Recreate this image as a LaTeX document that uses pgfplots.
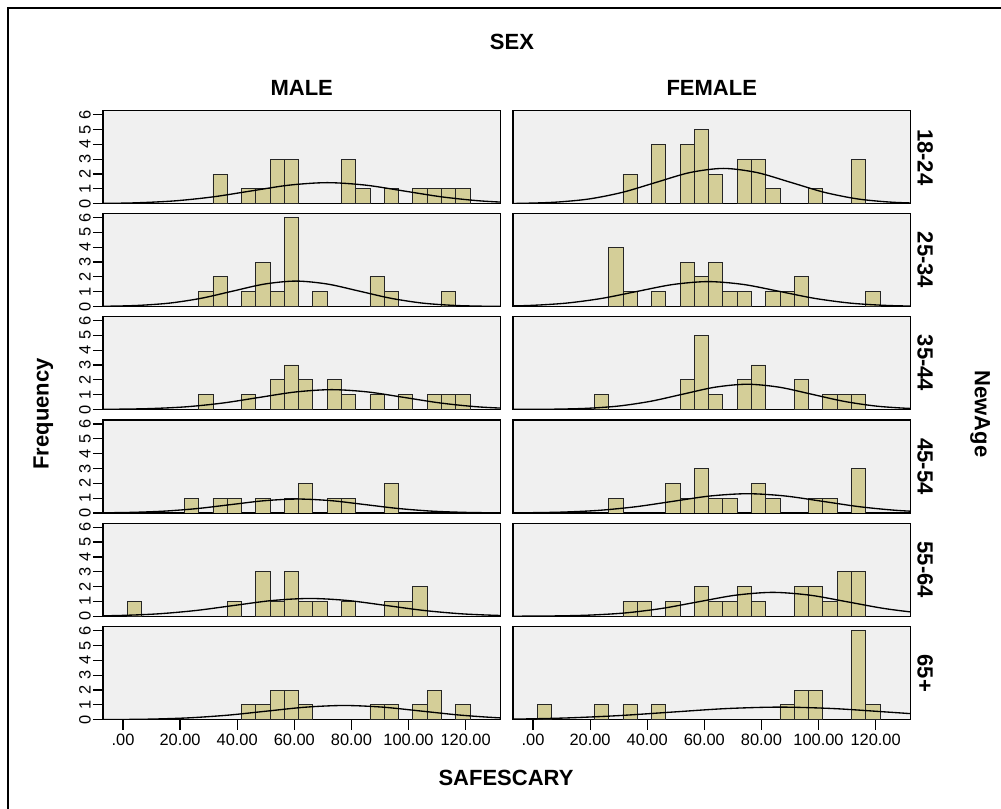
\documentclass[border=0pt]{standalone}
\usepackage{pgfplots}
\pgfplotsset{compat=1.18}
\usepackage{fontspec}
\setmainfont{Liberation Sans}
\usetikzlibrary{calc}
\definecolor{bgcol}{RGB}{240,240,240}
\definecolor{barcol}{RGB}{212,206,152}
\pgfplotsset{
  panel/.style={scale only axis, width=298.1pt, height=69.75pt, anchor=north west,
    xmin=-7, xmax=132.2, ymin=0, ymax=6.27,
    axis background/.style={fill=bgcol},
    axis line style={line width=1.1pt, black},
    ytick={0,1,2,3,4,5,6}, yticklabels={0,1,2,3,4,5,6},
    ytick pos=left, xtick pos=bottom, tick align=outside,
    major tick length=7.5pt, tick style={line width=0.9pt, black},
    yticklabel style={rotate=90, anchor=south, inner sep=1.5pt, font=\fontsize{12.3}{14}\selectfont},
    xtick=\empty,
    /pgf/number format/assume math mode=true},
  rightcol/.style={ytick=\empty, yticklabels={}},
  bottomrow/.style={xtick={0,20,40,60,80,100,120},
    xticklabels={.00,20.00,40.00,60.00,80.00,100.00,120.00},
    xticklabel style={font=\fontsize{12.3}{14}\selectfont, inner sep=3pt}},
  bars/.style={ybar, bar width=5, fill=barcol, draw=black!85, line width=0.6pt},
  curve/.style={smooth, no markers, black, line width=1pt},
}
\newcommand{\hfont}{\fontsize{16.5}{19}\selectfont\bfseries}
\begin{document}
\begin{tikzpicture}
\useasboundingbox (0,0) rectangle (750.75pt,606.75pt);
\draw[line width=1.3pt] (6pt,0) -- (6pt,600.5pt) -- (750.75pt,600.5pt);

% ---------- MALE ----------
\begin{axis}[panel, name=m1, at={(77.25pt,523.7pt)}]
\addplot[bars] coordinates {(34,2)(44,1)(49,1)(54,3)(59,3)(79,3)(84,1)(94,1)(104,1)(109,1)(114,1)(119,1)};
\addplot[curve] coordinates {(-35.2,0.0004)(-21.85,0.0031)(-8.5,0.0158)(4.85,0.0623)(18.2,0.1921)(31.55,0.4611)(44.9,0.8612)(58.25,1.2532)(71.6,1.42)(84.95,1.2532)(98.3,0.8612)(111.65,0.4611)(125.0,0.1921)(138.35,0.0623)(151.7,0.0158)(165.05,0.0031)(178.4,0.0004)};
\end{axis}
\begin{axis}[panel, name=m2, at={(77.25pt,446.6pt)}]
\addplot[bars] coordinates {(29,1)(34,2)(44,1)(49,3)(54,1)(59,6)(69,1)(89,2)(94,1)(114,1)};
\addplot[curve] coordinates {(-27.8,0.0005)(-16.75,0.0038)(-5.7,0.0190)(5.35,0.0753)(16.4,0.2320)(27.45,0.5569)(38.5,1.0401)(49.55,1.5135)(60.6,1.715)(71.65,1.5135)(82.7,1.0401)(93.75,0.5569)(104.8,0.2320)(115.85,0.0753)(126.9,0.0190)(137.95,0.0038)(149.0,0.0005)};
\end{axis}
\begin{axis}[panel, name=m3, at={(77.25pt,369.4pt)}]
\addplot[bars] coordinates {(29,1)(44,1)(54,2)(59,3)(64,2)(74,2)(79,1)(89,1)(99,1)(109,1)(114,1)(119,1)};
\addplot[curve] coordinates {(-28.5,0.0004)(-15.8,0.0029)(-3.1,0.0148)(9.6,0.0586)(22.3,0.1806)(35.0,0.4335)(47.7,0.8097)(60.4,1.1781)(73.1,1.335)(85.8,1.1781)(98.5,0.8097)(111.2,0.4335)(123.9,0.1806)(136.6,0.0586)(149.3,0.0148)(162.0,0.0029)(174.7,0.0004)};
\end{axis}
\begin{axis}[panel, name=m4, at={(77.25pt,291.75pt)}]
\addplot[bars] coordinates {(24,1)(34,1)(39,1)(49,1)(59,1)(64,2)(74,1)(79,1)(94,2)};
\addplot[curve] coordinates {(-31.9,0.0003)(-20.25,0.0021)(-8.6,0.0104)(3.05,0.0413)(14.7,0.1272)(26.35,0.3052)(38.0,0.5701)(49.65,0.8296)(61.3,0.94)(72.95,0.8296)(84.6,0.5701)(96.25,0.3052)(107.9,0.1272)(119.55,0.0413)(131.2,0.0104)(142.85,0.0021)(154.5,0.0003)};
\end{axis}
\begin{axis}[panel, name=m5, at={(77.25pt,214.3pt)}]
\addplot[bars] coordinates {(4,1)(39,1)(49,3)(54,1)(59,3)(64,1)(69,1)(79,1)(94,1)(99,1)(104,2)};
\addplot[curve] coordinates {(-40.9,0.0004)(-27.6,0.0026)(-14.3,0.0133)(-1.0,0.0527)(12.3,0.1624)(25.6,0.3896)(38.9,0.7278)(52.2,1.059)(65.5,1.20)(78.8,1.059)(92.1,0.7278)(105.4,0.3896)(118.7,0.1624)(132.0,0.0527)(145.3,0.0133)(158.6,0.0026)(171.9,0.0004)};
\end{axis}
\begin{axis}[panel, bottomrow, name=m6, at={(77.25pt,136.7pt)}]
\addplot[bars] coordinates {(44,1)(49,1)(54,2)(59,2)(64,1)(89,1)(94,1)(104,1)(109,2)(119,1)};
\addplot[curve] coordinates {(-30.5,0.0003)(-17.0,0.0021)(-3.5,0.0107)(10.0,0.0421)(23.5,0.1299)(37.0,0.3117)(50.5,0.5822)(64.0,0.8472)(77.5,0.96)(91.0,0.8472)(104.5,0.5822)(118.0,0.3117)(131.5,0.1299)(145.0,0.0421)(158.5,0.0107)(172.0,0.0021)(185.5,0.0003)};
\end{axis}

% ---------- FEMALE ----------
\begin{axis}[panel, rightcol, name=f1, at={(384.75pt,523.7pt)}]
\addplot[bars] coordinates {(34,2)(44,4)(54,4)(59,5)(64,2)(74,3)(79,3)(84,1)(99,1)(114,3)};
\addplot[curve] coordinates {(-27.3,0.0007)(-15.55,0.0052)(-3.8,0.0264)(7.95,0.1045)(19.7,0.3220)(31.45,0.7728)(43.2,1.4435)(54.95,2.1004)(66.7,2.38)(78.45,2.1004)(90.2,1.4435)(101.95,0.7728)(113.7,0.3220)(125.45,0.1045)(137.2,0.0264)(148.95,0.0052)(160.7,0.0007)};
\end{axis}
\begin{axis}[panel, rightcol, name=f2, at={(384.75pt,446.6pt)}]
\addplot[bars] coordinates {(29,4)(34,1)(44,1)(54,3)(59,2)(64,3)(69,1)(74,1)(84,1)(89,1)(94,2)(119,1)};
\addplot[curve] coordinates {(-38.2,0.0005)(-25.75,0.0037)(-13.3,0.0186)(-0.85,0.0738)(11.6,0.2273)(24.05,0.5455)(36.5,1.0189)(48.95,1.4826)(61.4,1.68)(73.85,1.4826)(86.3,1.0189)(98.75,0.5455)(111.2,0.2273)(123.65,0.0738)(136.1,0.0186)(148.55,0.0037)(161.0,0.0005)};
\end{axis}
\begin{axis}[panel, rightcol, name=f3, at={(384.75pt,369.4pt)}]
\addplot[bars] coordinates {(24,1)(54,2)(59,5)(64,1)(74,2)(79,3)(94,2)(104,1)(109,1)(114,1)};
\addplot[curve] coordinates {(-15,0.0005)(-3.75,0.0037)(7.5,0.0189)(18.75,0.0746)(30,0.2300)(41.25,0.5520)(52.5,1.0311)(63.75,1.5003)(75,1.70)(86.25,1.5003)(97.5,1.0311)(108.75,0.5520)(120,0.2300)(131.25,0.0746)(142.5,0.0189)(153.75,0.0037)(165,0.0005)};
\end{axis}
\begin{axis}[panel, rightcol, name=f4, at={(384.75pt,291.75pt)}]
\addplot[bars] coordinates {(29,1)(49,2)(54,1)(59,3)(64,1)(69,1)(79,2)(84,1)(99,1)(104,1)(114,3)};
\addplot[curve] coordinates {(-29.2,0.0004)(-16.15,0.0029)(-3.1,0.0144)(9.95,0.0571)(23.0,0.1759)(36.05,0.4221)(49.1,0.7885)(62.15,1.1473)(75.2,1.30)(88.25,1.1473)(101.3,0.7885)(114.35,0.4221)(127.4,0.1759)(140.45,0.0571)(153.5,0.0144)(166.55,0.0029)(179.6,0.0004)};
\end{axis}
\begin{axis}[panel, rightcol, name=f5, at={(384.75pt,214.3pt)}]
\addplot[bars] coordinates {(34,1)(39,1)(49,1)(59,2)(64,1)(69,1)(74,2)(79,1)(94,2)(99,2)(104,1)(109,3)(114,3)};
\addplot[curve] coordinates {(-20,0.0005)(-7,0.0035)(6,0.0179)(19,0.0707)(32,0.2178)(45,0.5228)(58,0.9765)(71,1.4208)(84,1.61)(97,1.4208)(110,0.9765)(123,0.5228)(136,0.2178)(149,0.0707)(162,0.0179)(175,0.0035)(188,0.0005)};
\end{axis}
\begin{axis}[panel, rightcol, bottomrow, name=f6, at={(384.75pt,136.7pt)}]
\addplot[bars] coordinates {(4,1)(24,1)(34,1)(44,1)(89,1)(94,2)(99,2)(114,6)(119,1)};
\addplot[curve] coordinates {(-64.3,0.0003)(-45.45,0.0019)(-26.6,0.0094)(-7.75,0.0373)(11.1,0.1150)(29.95,0.2760)(48.8,0.5155)(67.65,0.7501)(86.5,0.85)(105.35,0.7501)(124.2,0.5155)(143.05,0.2760)(161.9,0.1150)(180.75,0.0373)(199.6,0.0094)(218.45,0.0019)(237.3,0.0003)};
\end{axis}

% ---------- labels ----------
\node[font=\hfont] at (384pt,575.25pt) {SEX};
\node[font=\hfont] at ($(m1.north)+(0,17pt)$) {MALE};
\node[font=\hfont] at ($(f1.north)+(0,17pt)$) {FEMALE};
\foreach \r/\t in {1/18-24,2/25-34,3/35-44,4/45-54,5/55-64,6/65+}{
  \node[font=\hfont, rotate=-90] at ($(f\r.east)+(11pt,0)$) {\t};
}
\node[font=\hfont, rotate=-90] at (735pt,296.25pt) {NewAge};
\node[font=\hfont, rotate=90] at (32.5pt,296.25pt) {Frequency};
\node[font=\hfont] at (379.5pt,23.25pt) {SAFESCARY};
\end{tikzpicture}
\end{document}
